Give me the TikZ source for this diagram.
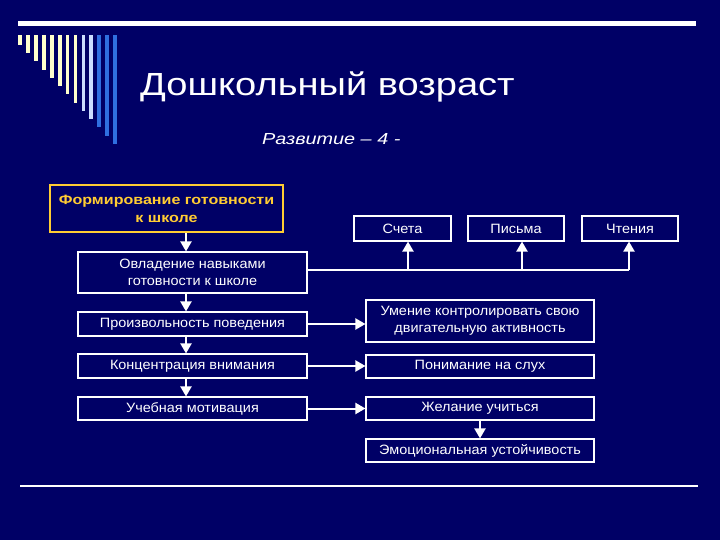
\documentclass[tikz,border=0pt]{standalone}
\usepackage{fontspec}
\setmainfont{Liberation Sans}
\newfontfamily\titlefont[FakeStretch=1.19]{Liberation Sans}
\newfontfamily\subfont[FakeStretch=1.24]{Liberation Sans}
\newfontfamily\boxfont[FakeStretch=1.07]{Liberation Sans}
\newfontfamily\goldfont[FakeStretch=1.19]{Liberation Sans}
\usetikzlibrary{arrows.meta}
\definecolor{bg}{HTML}{000066}
\definecolor{ylw}{HTML}{FFCC33}
\definecolor{pyel}{HTML}{FFFFCC}
\definecolor{plav}{HTML}{CCDDFF}
\definecolor{sblue}{HTML}{2F6FE0}
\tikzset{
  box/.style={draw=white, line width=1.1pt, text=white, fill=bg, align=center, inner sep=0pt,
    font=\boxfont\fontsize{13.5}{17}\selectfont},
  goldbox/.style={draw=ylw, line width=2.6pt, text=ylw, fill=bg, align=center, inner sep=0pt,
    font=\goldfont\bfseries\fontsize{13.5}{18}\selectfont},
  arr/.style={draw=white, line width=2pt, -{Triangle[width=11pt,length=10pt]}},
  plain/.style={draw=white, line width=2pt}
}
\begin{document}
\begin{tikzpicture}[x=1pt,y=-1pt]
\fill[bg] (0,0) rectangle (720,540);
\useasboundingbox (0,0) rectangle (720,540);
% top decoration
\fill[white] (18,21) rectangle (696,26);
\foreach \i in {0,...,12}{
  \pgfmathsetmacro{\xx}{18.3+7.9*\i}
  \pgfmathsetmacro{\yy}{45+8.25*\i}
  \ifnum\i<8 \def\cc{pyel}\else\ifnum\i<10 \def\cc{plav}\else\def\cc{sblue}\fi\fi
  \fill[\cc] (\xx,35) rectangle ({\xx+3.7},\yy);
}
% bottom line
\draw[white, line width=1.5pt] (20,486) -- (698,486);
% titles
\node[anchor=base west, text=white, inner sep=0pt, font=\titlefont\fontsize{32}{36}\selectfont] (title) at (140,96) {Дошкольный возраст};
\node[anchor=base west, text=white, inner sep=0pt, font=\subfont\itshape\fontsize{16}{18}\selectfont] (sub) at (262,145) {Развитие – 4 -};
% nodes
\node[goldbox, minimum width=233pt, minimum height=47pt] (A) at (166.5,208.5) {Формирование готовности\\к школе};
\node[box, minimum width=229pt, minimum height=41pt] (B) at (192.5,272.5) {Овладение навыками\\готовности к школе};
\node[box, minimum width=229pt, minimum height=24pt] (C) at (192.5,324) {Произвольность поведения};
\node[box, minimum width=229pt, minimum height=24pt] (D) at (192.5,366) {Концентрация внимания};
\node[box, minimum width=229pt, minimum height=23pt] (E) at (192.5,408.5) {Учебная мотивация};
\node[box, minimum width=228pt, minimum height=42pt] (F) at (480,321) {Умение контролировать свою\\двигательную активность};
\node[box, minimum width=228pt, minimum height=23pt] (G) at (480,366.5) {Понимание на слух};
\node[box, minimum width=228pt, minimum height=23pt] (H) at (480,408.5) {Желание учиться};
\node[box, minimum width=228pt, minimum height=23pt] (I) at (480,450.5) {Эмоциональная устойчивость};
\node[box, minimum width=97pt, minimum height=25pt] (S1) at (402.5,228.5) {Счета};
\node[box, minimum width=96pt, minimum height=25pt] (S2) at (516,228.5) {Письма};
\node[box, minimum width=96pt, minimum height=25pt] (S3) at (630,228.5) {Чтения};
% helper coordinates
\coordinate (ax) at (186,0);
\coordinate (br) at (307,270);
\coordinate (b1) at (408,270);
\coordinate (b2) at (522,270);
\coordinate (b3) at (629,270);
% connectors
\draw[arr] (A.south -| ax) -- (B.north -| ax);
\draw[arr] (B.south -| ax) -- (C.north -| ax);
\draw[arr] (C.south -| ax) -- (D.north -| ax);
\draw[arr] (D.south -| ax) -- (E.north -| ax);
\draw[plain] (br) -- (b3);
\draw[arr] (b1) -- (S1.south -| b1);
\draw[arr] (b2) -- (S2.south -| b2);
\draw[arr] (b3) -- (S3.south -| b3);
\draw[arr] (C.east) -- (C.east -| F.west);
\draw[arr] (D.east) -- (D.east -| G.west);
\draw[arr] (E.east) -- (E.east -| H.west);
\draw[arr] (H.south) -- (I.north);
\end{tikzpicture}
\end{document}
